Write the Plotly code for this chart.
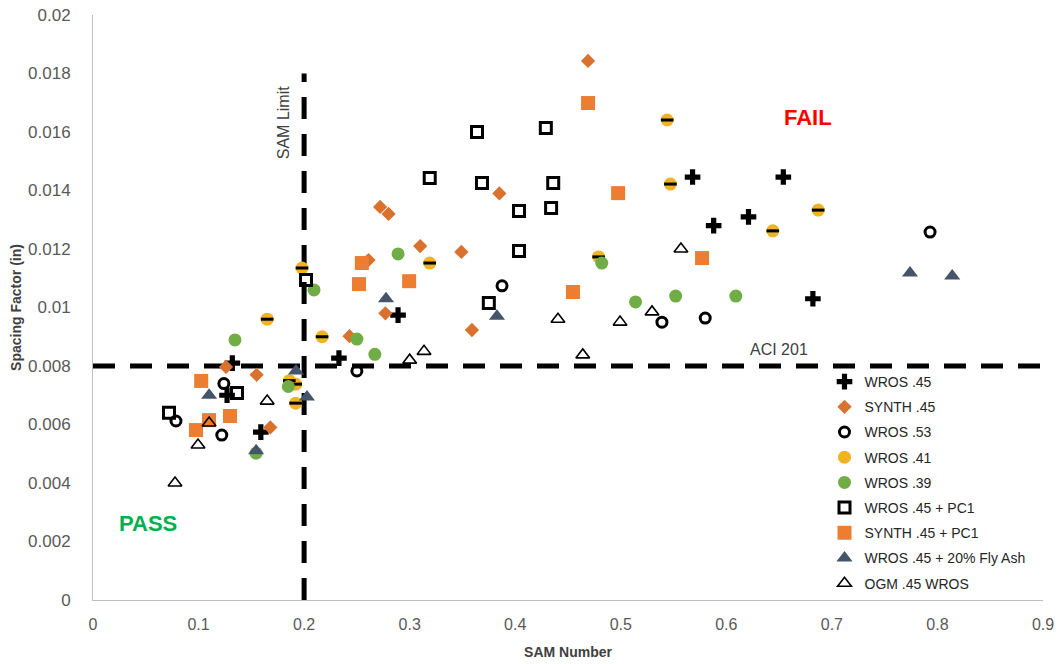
import plotly.graph_objects as go

# ---------------- data ----------------
wros45_x = [0.127, 0.132, 0.159, 0.233, 0.289, 0.568, 0.588, 0.621, 0.654, 0.682]
wros45_y = [0.0070, 0.0081, 0.00574, 0.00827, 0.00974, 0.01446, 0.0128, 0.0131, 0.01446, 0.0103]

synth45_x = [0.126, 0.155, 0.168, 0.243, 0.261, 0.272, 0.277, 0.280, 0.310, 0.349, 0.359, 0.385, 0.469]
synth45_y = [0.00797, 0.0077, 0.0059, 0.00902, 0.01162, 0.01344, 0.0098, 0.0132, 0.0121, 0.0119, 0.00923, 0.0139, 0.01843]

wros53_x = [0.0786, 0.122, 0.124, 0.250, 0.3875, 0.539, 0.580, 0.793]
wros53_y = [0.00612, 0.00564, 0.0074, 0.00783, 0.01074, 0.0095, 0.00964, 0.01258]

wros41_x = [0.165, 0.186, 0.192, 0.192, 0.198, 0.217, 0.319, 0.479, 0.544, 0.547, 0.644, 0.687]
wros41_y = [0.0096, 0.0075, 0.00738, 0.00673, 0.01135, 0.0090, 0.01152, 0.01173, 0.01641, 0.01422, 0.01262, 0.01333]

wros39_x = [0.1345, 0.1545, 0.185, 0.2094, 0.250, 0.267, 0.289, 0.482, 0.514, 0.552, 0.609]
wros39_y = [0.00889, 0.00502, 0.0073, 0.0106, 0.00892, 0.0084, 0.01183, 0.01152, 0.01019, 0.01039, 0.01039]

wros45pc1_x = [0.072, 0.1364, 0.2018, 0.319, 0.3638, 0.3685, 0.375, 0.4036, 0.4036, 0.429, 0.434, 0.436]
wros45pc1_y = [0.0064, 0.00708, 0.01094, 0.01443, 0.0160, 0.01426, 0.01015, 0.0133, 0.01193, 0.01614, 0.0134, 0.01426]

synth45pc1_x = [0.0976, 0.1025, 0.1099, 0.1298, 0.252, 0.2547, 0.2995, 0.4547, 0.469, 0.4975, 0.577]
synth45pc1_y = [0.00581, 0.00749, 0.00615, 0.00629, 0.0108, 0.01152, 0.0109, 0.01053, 0.01699, 0.01391, 0.01169]

flyash_x = [0.110, 0.1545, 0.1923, 0.2027, 0.2776, 0.3827, 0.774, 0.814]
flyash_y = [0.0070, 0.0051, 0.00783, 0.00694, 0.0103, 0.0097, 0.01118, 0.01108]

ogm_x = [0.0777, 0.0995, 0.110, 0.165, 0.300, 0.3136, 0.4405, 0.464, 0.4993, 0.5296, 0.557]
ogm_y = [0.0040, 0.0053, 0.00605, 0.0068, 0.0082, 0.0085, 0.0096, 0.00838, 0.0095, 0.00985, 0.0120]

x_ticks = [0, 0.1, 0.2, 0.3, 0.4, 0.5, 0.6, 0.7, 0.8, 0.9]
x_tick_labels = ["0", "0.1", "0.2", "0.3", "0.4", "0.5", "0.6", "0.7", "0.8", "0.9"]
y_ticks = [0, 0.002, 0.004, 0.006, 0.008, 0.01, 0.012, 0.014, 0.016, 0.018, 0.02]
y_tick_labels = ["0", "0.002", "0.004", "0.006", "0.008", "0.01", "0.012", "0.014", "0.016", "0.018", "0.02"]

SAM_LIMIT = 0.2
SAM_LINE_TOP = 0.018
ACI_LIMIT = 0.008
X_MAX = 0.9
Y_MAX = 0.02

# ---------------- figure ----------------
FONT = "Liberation Sans"
fig = go.Figure()

def add(name, xs, ys, marker, group):
    fig.add_trace(go.Scatter(x=xs, y=ys, mode="markers", name=name, marker=marker,
                             legendgroup=group, cliponaxis=False))

add("WROS .45", wros45_x, wros45_y,
    dict(symbol="cross", size=13, color="black", line=dict(width=0)), "g1")
add("SYNTH .45", synth45_x, synth45_y,
    dict(symbol="diamond", size=11, color="#D8722E", line=dict(width=0)), "g2")
add("WROS .53", wros53_x, wros53_y,
    dict(symbol="circle-open", size=10, color="black", line=dict(width=3, color="black")), "g3")
add("WROS .41", wros41_x, wros41_y,
    dict(symbol="circle", size=13, color="#F0B323", line=dict(width=0)), "g4")
fig.add_trace(go.Scatter(x=wros41_x, y=wros41_y, mode="markers", showlegend=False,
                         legendgroup="g4", hoverinfo="skip",
                         marker=dict(symbol="line-ew", size=9, color="black",
                                     line=dict(width=3, color="black"))))
add("WROS .39", wros39_x, wros39_y,
    dict(symbol="circle", size=13, color="#70AD47", line=dict(width=0)), "g5")
add("WROS .45 + PC1", wros45pc1_x, wros45pc1_y,
    dict(symbol="square-open", size=11, color="black", line=dict(width=3, color="black")), "g6")
add("SYNTH .45 + PC1", synth45pc1_x, synth45pc1_y,
    dict(symbol="square", size=14, color="#ED7D31", line=dict(width=0)), "g7")
add("WROS .45 + 20% Fly Ash", flyash_x, flyash_y,
    dict(symbol="triangle-up", size=14, color="#44546A", line=dict(width=0)), "g8")
add("OGM .45 WROS", ogm_x, ogm_y,
    dict(symbol="triangle-up-open", size=12, color="black", line=dict(width=1.6, color="black")), "g9")

dash = "22px,15px"
fig.add_shape(type="line", xref="x", yref="y", x0=SAM_LIMIT, x1=SAM_LIMIT, y0=0, y1=SAM_LINE_TOP,
              line=dict(color="black", width=5, dash=dash), layer="below")
fig.add_shape(type="line", xref="x", yref="y", x0=0, x1=X_MAX, y0=ACI_LIMIT, y1=ACI_LIMIT,
              line=dict(color="black", width=5, dash=dash), layer="below")

fig.add_annotation(x=0.677, y=0.0165, text="<b>FAIL</b>", showarrow=False,
                   font=dict(family=FONT, size=22, color="#FF0000"))
fig.add_annotation(x=0.052, y=0.00263, text="<b>PASS</b>", showarrow=False,
                   font=dict(family=FONT, size=22, color="#00B050"))
fig.add_annotation(x=0.18, y=0.0163, text="SAM Limit", showarrow=False, textangle=-90,
                   font=dict(family=FONT, size=16, color="#404040"))
fig.add_annotation(x=0.650, y=0.00855, text="ACI 201", showarrow=False,
                   font=dict(family=FONT, size=16, color="#404040"))

fig.update_layout(
    width=1058, height=664,
    margin=dict(l=93, r=15, t=15, b=64),
    paper_bgcolor="white", plot_bgcolor="white",
    font=dict(family=FONT, color="#595959"),
    legend=dict(x=0.770, y=0.40, xanchor="left", yanchor="top",
                font=dict(family=FONT, size=14, color="#262626"),
                bgcolor="rgba(0,0,0,0)", tracegroupgap=4, itemsizing="trace"),
    xaxis=dict(range=[0, X_MAX], tickvals=x_ticks, ticktext=x_tick_labels, automargin=False,
               showgrid=False, zeroline=False, showline=True, linecolor="#BFBFBF", linewidth=1,
               ticks="", ticklabelstandoff=10, ticklabeloverflow="allow",
               tickfont=dict(family=FONT, size=16, color="#595959"),
               title=dict(text="<b>SAM Number</b>", font=dict(family=FONT, size=14, color="#404040"),
                          standoff=14)),
    yaxis=dict(range=[0, Y_MAX], tickvals=y_ticks, ticktext=y_tick_labels, automargin=False,
               showgrid=False, zeroline=False, showline=True, linecolor="#BFBFBF", linewidth=1,
               ticks="", ticklabelstandoff=18, ticklabeloverflow="allow",
               tickfont=dict(family=FONT, size=17, color="#595959"),
               title=dict(text="<b>Spacing Factor (in)</b>", font=dict(family=FONT, size=14, color="#404040"),
                          standoff=3)),
)

# remove the default 8px page margin so the 1058x664 figure fills the window exactly
fig.write_html("out.html", config={"displayModeBar": False},
               post_script="document.body.style.margin='0';document.body.style.overflow='hidden';")
